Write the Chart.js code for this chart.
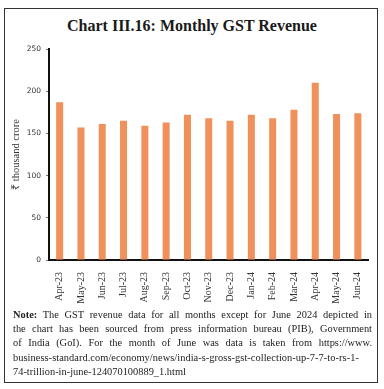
<!DOCTYPE html>
<html>
<head>
<meta charset="utf-8">
<script src="https://cdn.jsdelivr.net/npm/chart.js@4"></script>
<style>
  html, body { margin: 0; padding: 0; background: #fff; }
  body { width: 384px; height: 389px; position: relative; overflow: hidden; }
  #frame { position: absolute; left: 4px; top: 8px; width: 374px; height: 375px; border: 1.5px solid #333; box-sizing: border-box; }
  #title { position: absolute; left: 0; top: 17px; width: 384px; text-align: center; font-family: "Liberation Serif", serif; font-weight: bold; font-size: 16px; color: #1a1a1a; }
  #c { position: absolute; left: 0; top: 0; }
  #note { position: absolute; left: 13px; top: 308px; width: 359px; font-family: "Liberation Serif", serif; font-size: 10.4px; line-height: 14.2px; color: #222; }
  #note div { text-align: justify; text-align-last: justify; white-space: nowrap; }
  #note div.last { text-align-last: left; }
</style>
</head>
<body>
<div id="frame"></div>
<div id="title">Chart III.16: Monthly GST Revenue</div>
<canvas id="c" width="384" height="389"></canvas>
<div id="note">
  <div><b>Note:</b> The GST revenue data for all months except for June 2024 depicted in</div>
  <div>the chart has been sourced from press information bureau (PIB), Government</div>
  <div>of India (GoI). For the month of June was data is taken from https://www.</div>
  <div style="letter-spacing:0.05px">business-standard.com/economy/news/india-s-gross-gst-collection-up-7-7-to-rs-1-</div>
  <div class="last">74-trillion-in-june-124070100889_1.html</div>
</div>
<script>
const categories = ["Apr-23","May-23","Jun-23","Jul-23","Aug-23","Sep-23","Oct-23","Nov-23","Dec-23","Jan-24","Feb-24","Mar-24","Apr-24","May-24","Jun-24"];
const gstRevenue = [187, 157, 161, 165, 159, 163, 172, 168, 165, 172, 168, 178, 210, 173, 174];
const yTicks = [0, 50, 100, 150, 200, 250];
const yTitle = "₹ thousand crore";

new Chart(document.getElementById('c'), {
  type: 'bar',
  data: {
    labels: categories,
    datasets: [{
      data: gstRevenue,
      backgroundColor: '#F0915C',
      borderWidth: 0,
      barPercentage: 0.33,
      categoryPercentage: 1.0
    }]
  },
  options: {
    responsive: false,
    animation: false,
    devicePixelRatio: 1,
    layout: { padding: { top: 49, left: 0, right: 15.5, bottom: 84 } },
    plugins: { legend: { display: false }, tooltip: { enabled: false }, title: { display: false } },
    scales: {
      x: {
        grid: { display: false },
        border: { display: true, color: '#111', width: 2 },
        ticks: {
          minRotation: 90, maxRotation: 90, padding: 4,
          color: '#333',
          font: { family: 'Liberation Serif', size: 10 }
        },
        afterFit: s => { s.height = 45; }
      },
      y: {
        min: 0, max: 250,
        afterBuildTicks: s => { s.ticks = yTicks.map(v => ({ value: v })); },
        grid: { drawOnChartArea: false, drawTicks: true, tickLength: 3, color: '#777' },
        border: { display: true, color: '#111', width: 2 },
        ticks: { padding: 5, color: '#333', font: { family: 'DejaVu Sans', size: 7.5 } },
        title: { display: true, text: yTitle, color: '#333', padding: { top: 10, bottom: 0 }, font: { family: 'Liberation Serif', size: 10.5 } },
        afterFit: s => { s.width = 49; }
      }
    }
  }
});
</script>
</body>
</html>
